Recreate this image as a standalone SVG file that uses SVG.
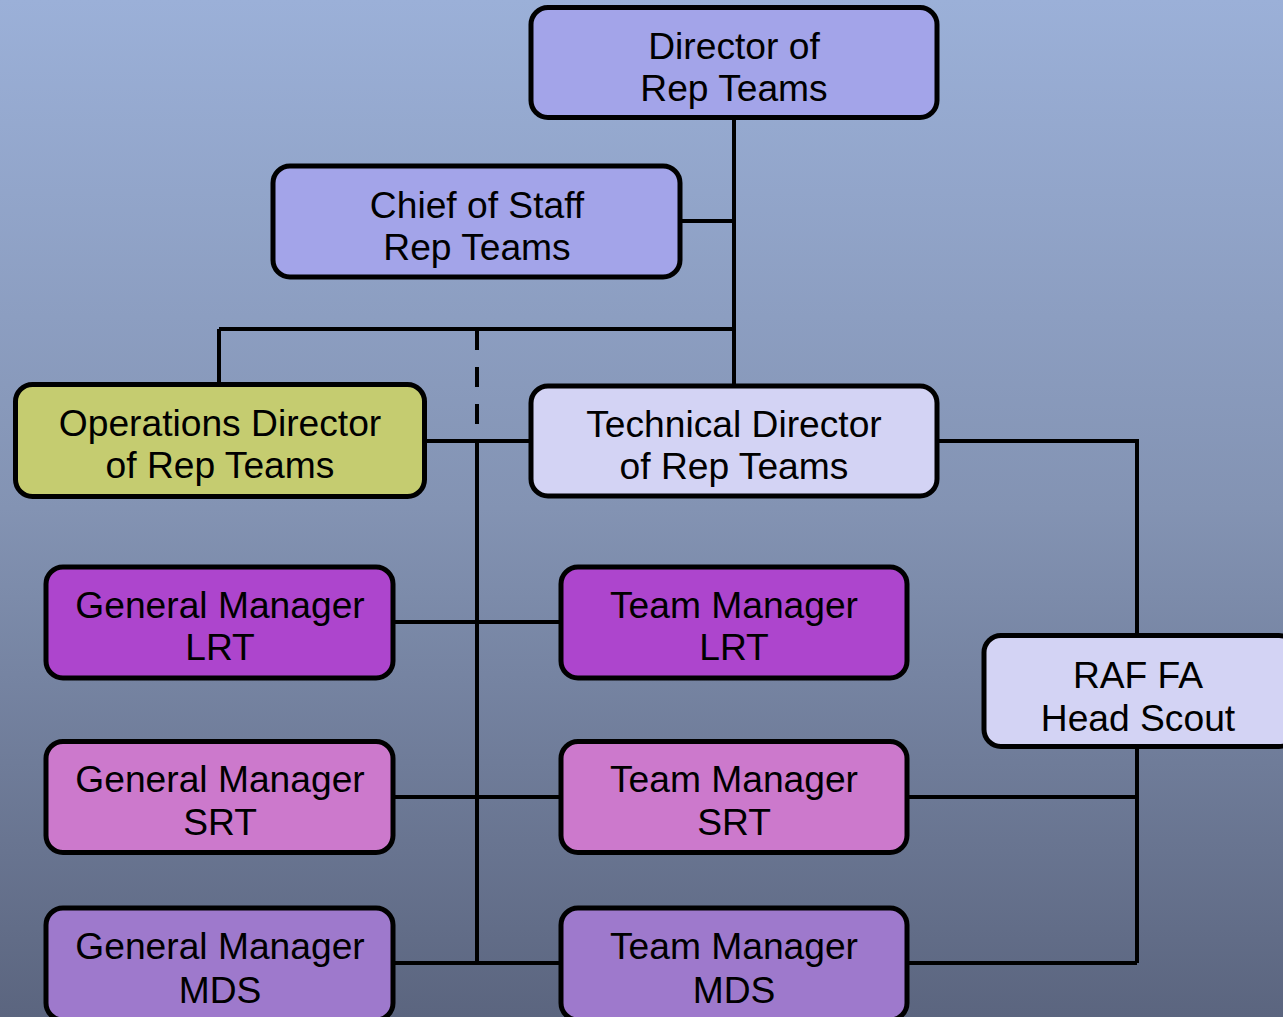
<svg xmlns="http://www.w3.org/2000/svg" width="1283" height="1017" viewBox="0 0 1283 1017">
<defs>
<linearGradient id="bg" x1="0" y1="0" x2="0" y2="1">
<stop offset="0" stop-color="#9bb0d8"/>
<stop offset="0.5" stop-color="#8393b3"/>
<stop offset="1" stop-color="#5b657f"/>
</linearGradient>
<style>
.box{stroke:#000;stroke-width:5}
.t{font-family:"Liberation Sans",Arial,sans-serif;font-size:37.2px;fill:#000;text-anchor:middle}
.c{fill:none;stroke:#000;stroke-width:4}
.d{fill:none;stroke:#000;stroke-width:4;stroke-dasharray:20 17}
</style>
</defs>
<rect x="0" y="0" width="1283" height="1017" fill="url(#bg)"/>
<g id="connectors">
<path class="c" d="M734 118V385"/>
<path class="c" d="M682 221H734"/>
<path class="c" d="M219 329H734"/>
<path class="c" d="M219 329V384"/>
<path class="d" d="M477 330V426"/>
<path class="c" d="M425 441H530"/>
<path class="c" d="M477 441V963"/>
<path class="c" d="M938 441H1137V634"/>
<path class="c" d="M1137 748V963"/>
<path class="c" d="M394 622H560"/>
<path class="c" d="M394 797H560"/>
<path class="c" d="M394 963H560"/>
<path class="c" d="M907 797H1137"/>
<path class="c" d="M907 963H1137"/>
</g>
<g id="director">
<rect class="box" x="531" y="7.5" width="406" height="110" rx="17" fill="#a3a4e9"/>
<text class="t" x="734" y="59">Director of</text>
<text class="t" x="734" y="101">Rep Teams</text>
</g>
<g id="chief-of-staff">
<rect class="box" x="273" y="166" width="407" height="111" rx="17" fill="#a3a4e9"/>
<text class="t" x="477" y="218">Chief of Staff</text>
<text class="t" x="477" y="260">Rep Teams</text>
</g>
<g id="operations-director">
<rect class="box" x="15.5" y="384.5" width="409" height="112" rx="17" fill="#c5cc70"/>
<text class="t" x="220" y="436">Operations Director</text>
<text class="t" x="220" y="478">of Rep Teams</text>
</g>
<g id="technical-director">
<rect class="box" x="531" y="386" width="406" height="110" rx="17" fill="#d3d3f4"/>
<text class="t" x="734" y="437">Technical Director</text>
<text class="t" x="734" y="479">of Rep Teams</text>
</g>
<g id="raf-fa-head-scout">
<rect class="box" x="984" y="635.5" width="312" height="111" rx="17" fill="#d3d3f4"/>
<text class="t" x="1138" y="688">RAF FA</text>
<text class="t" x="1138" y="731">Head Scout</text>
</g>
<g id="gm-lrt">
<rect class="box" x="46" y="567" width="347" height="111" rx="17" fill="#ad45cd"/>
<text class="t" x="220" y="618">General Manager</text>
<text class="t" x="220" y="660">LRT</text>
</g>
<g id="tm-lrt">
<rect class="box" x="561" y="567" width="346" height="111" rx="17" fill="#ad45cd"/>
<text class="t" x="734" y="618">Team Manager</text>
<text class="t" x="734" y="660">LRT</text>
</g>
<g id="gm-srt">
<rect class="box" x="46" y="741.5" width="347" height="111" rx="17" fill="#cc79cc"/>
<text class="t" x="220" y="792">General Manager</text>
<text class="t" x="220" y="835">SRT</text>
</g>
<g id="tm-srt">
<rect class="box" x="561" y="741.5" width="346" height="111" rx="17" fill="#cc79cc"/>
<text class="t" x="734" y="792">Team Manager</text>
<text class="t" x="734" y="835">SRT</text>
</g>
<g id="gm-mds">
<rect class="box" x="46" y="908" width="347" height="112" rx="17" fill="#9e79cc"/>
<text class="t" x="220" y="959">General Manager</text>
<text class="t" x="220" y="1003">MDS</text>
</g>
<g id="tm-mds">
<rect class="box" x="561" y="908" width="346" height="112" rx="17" fill="#9e79cc"/>
<text class="t" x="734" y="959">Team Manager</text>
<text class="t" x="734" y="1003">MDS</text>
</g>
</svg>
